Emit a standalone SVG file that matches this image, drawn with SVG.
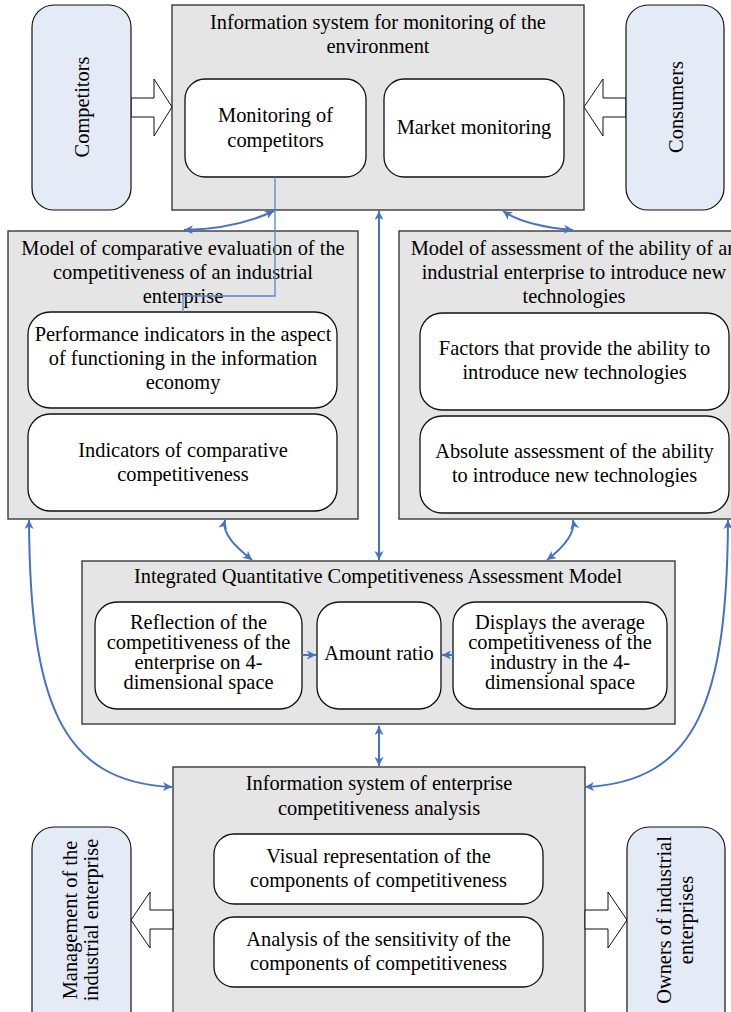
<svg xmlns="http://www.w3.org/2000/svg" width="731" height="1012" viewBox="0 0 731 1012">
<style>
text{font-family:'Liberation Serif','DejaVu Serif',serif;font-size:20.4px;fill:#000;text-anchor:middle}
.grp{fill:#e5e5e5;stroke:#3a3a3a;stroke-width:1.4}
.inn{fill:#fff;stroke:#111;stroke-width:1.3}
.ext{fill:#e4eaf6;stroke:#111;stroke-width:1.2}
.blk{fill:#fff;stroke:#111;stroke-width:1}
.con{fill:none;stroke:#4472c4;stroke-width:2}
.thin{fill:none;stroke:#5b87cc;stroke-width:1.3}
</style>
<defs>
<marker id="ah" markerUnits="userSpaceOnUse" markerWidth="10" markerHeight="9" refX="9" refY="4.5" orient="auto-start-reverse" viewBox="0 0 10 9">
<path d="M0,0 L9,4.5 L0,9 L2.5,4.5 z" fill="#4472c4"/>
</marker>
</defs>
<g id="top-system">
<rect class="grp" x="172" y="5" width="412" height="205"/>
<text x="378" y="29">Information system for monitoring of the</text>
<text x="378" y="53">environment</text>
</g>
<g id="monitoring-competitors">
<rect class="inn" x="185" y="79" width="181" height="98" rx="20"/>
<text x="275.5" y="122">Monitoring of</text>
<text x="275.5" y="147">competitors</text>
</g>
<g id="market-monitoring">
<rect class="inn" x="384" y="79" width="180" height="98" rx="20"/>
<text x="474" y="134">Market monitoring</text>
</g>
<g id="competitors">
<polygon class="blk" points="131,98 154,98 154,79 172,107 154,136 154,117 131,117"/>
<rect class="ext" x="32" y="5" width="99" height="205" rx="22"/>
<text transform="translate(89,107) rotate(-90)">Competitors</text>
</g>
<g id="consumers">
<polygon class="blk" points="626,98 603,98 603,79 584,107 603,136 603,117 626,117"/>
<rect class="ext" x="626" y="5" width="98" height="205" rx="22"/>
<text transform="translate(683,107) rotate(-90)">Consumers</text>
</g>
<g id="comparative-model">
<rect class="grp" x="8" y="231" width="350" height="288"/>
<text x="183" y="255">Model of comparative evaluation of the</text>
<text x="183" y="279">competitiveness of an industrial</text>
<text x="183" y="303">enterprise</text>
</g>
<g id="performance-indicators">
<rect class="inn" x="28" y="312" width="309" height="96" rx="22"/>
<text x="183" y="341">Performance indicators in the aspect</text>
<text x="183" y="365">of functioning in the information</text>
<text x="183" y="389">economy</text>
</g>
<g id="comparative-indicators">
<rect class="inn" x="28" y="414" width="309" height="97" rx="22"/>
<text x="183" y="457">Indicators of comparative</text>
<text x="183" y="481">competitiveness</text>
</g>
<g id="technology-model">
<rect class="grp" x="399" y="231" width="350" height="288"/>
<text x="574" y="255">Model of assessment of the ability of an</text>
<text x="574" y="279">industrial enterprise to introduce new</text>
<text x="574" y="303">technologies</text>
</g>
<g id="factors">
<rect class="inn" x="420" y="313" width="309" height="97" rx="22"/>
<text x="574.5" y="355">Factors that provide the ability to</text>
<text x="574.5" y="379">introduce new technologies</text>
</g>
<g id="absolute-assessment">
<rect class="inn" x="420" y="416" width="309" height="97" rx="22"/>
<text x="574.5" y="458">Absolute assessment of the ability</text>
<text x="574.5" y="482">to introduce new technologies</text>
</g>
<g id="integrated-model">
<rect class="grp" x="82" y="561" width="593" height="163"/>
<text x="378" y="583">Integrated Quantitative Competitiveness Assessment Model</text>
</g>
<g id="reflection">
<rect class="inn" x="95" y="602" width="207" height="107" rx="22"/>
<text x="198.5" y="629">Reflection of the</text>
<text x="198.5" y="649">competitiveness of the</text>
<text x="198.5" y="669">enterprise on 4-</text>
<text x="198.5" y="689">dimensional space</text>
</g>
<g id="amount-ratio">
<rect class="inn" x="317" y="602" width="124" height="107" rx="22"/>
<text x="379" y="660">Amount ratio</text>
</g>
<g id="industry-average">
<rect class="inn" x="453" y="602" width="214" height="107" rx="22"/>
<text x="560" y="629">Displays the average</text>
<text x="560" y="649">competitiveness of the</text>
<text x="560" y="669">industry in the 4-</text>
<text x="560" y="689">dimensional space</text>
</g>
<g id="analysis-system">
<rect class="grp" x="173" y="767" width="412" height="260"/>
<text x="379" y="790">Information system of enterprise</text>
<text x="379" y="815">competitiveness analysis</text>
</g>
<g id="visual-representation">
<rect class="inn" x="214" y="834" width="329" height="70" rx="20"/>
<text x="378.5" y="863">Visual representation of the</text>
<text x="378.5" y="887">components of competitiveness</text>
</g>
<g id="sensitivity-analysis">
<rect class="inn" x="214" y="917" width="329" height="70" rx="20"/>
<text x="378.5" y="946">Analysis of the sensitivity of the</text>
<text x="378.5" y="970">components of competitiveness</text>
</g>
<g id="management">
<polygon class="blk" points="173,910 150,910 150,892 131,920 150,948 150,929 173,929"/>
<rect class="ext" x="32" y="827" width="99" height="210" rx="22"/>
<text transform="translate(77,920) rotate(-90)">Management of the</text>
<text transform="translate(98,920) rotate(-90)">industrial enterprise</text>
</g>
<g id="owners">
<polygon class="blk" points="585,910 608,910 608,892 627,920 608,948 608,929 585,929"/>
<rect class="ext" x="627" y="827" width="98" height="210" rx="22"/>
<text transform="translate(671,920) rotate(-90)">Owners of industrial</text>
<text transform="translate(693,920) rotate(-90)">enterprises</text>
</g>
<g id="connectors">
<path class="thin" d="M275,177 L275,296 L183,296 L183,312"/>
<path class="con" d="M184,230 Q235,229 274,211" marker-start="url(#ah)" marker-end="url(#ah)"/>
<path class="con" d="M503,211 Q525,226 573,230" marker-start="url(#ah)" marker-end="url(#ah)"/>
<path class="con" d="M379,211 L379,560" marker-start="url(#ah)" marker-end="url(#ah)"/>
<path class="con" d="M225,520 C221,535 240,550 252,560" marker-start="url(#ah)" marker-end="url(#ah)"/>
<path class="con" d="M573,520 C576,535 560,550 547,560" marker-start="url(#ah)" marker-end="url(#ah)"/>
<path class="con" d="M29,520 C30,700 60,782 172,787" marker-start="url(#ah)" marker-end="url(#ah)"/>
<path class="con" d="M728,520 C727,700 697,782 585,787" marker-start="url(#ah)" marker-end="url(#ah)"/>
<path class="con" d="M379,726 L379,766" marker-start="url(#ah)" marker-end="url(#ah)"/>
<path class="con" d="M302,655 L316,655" marker-end="url(#ah)"/>
<path class="con" d="M453,655 L442,655" marker-end="url(#ah)"/>
</g>
</svg>
